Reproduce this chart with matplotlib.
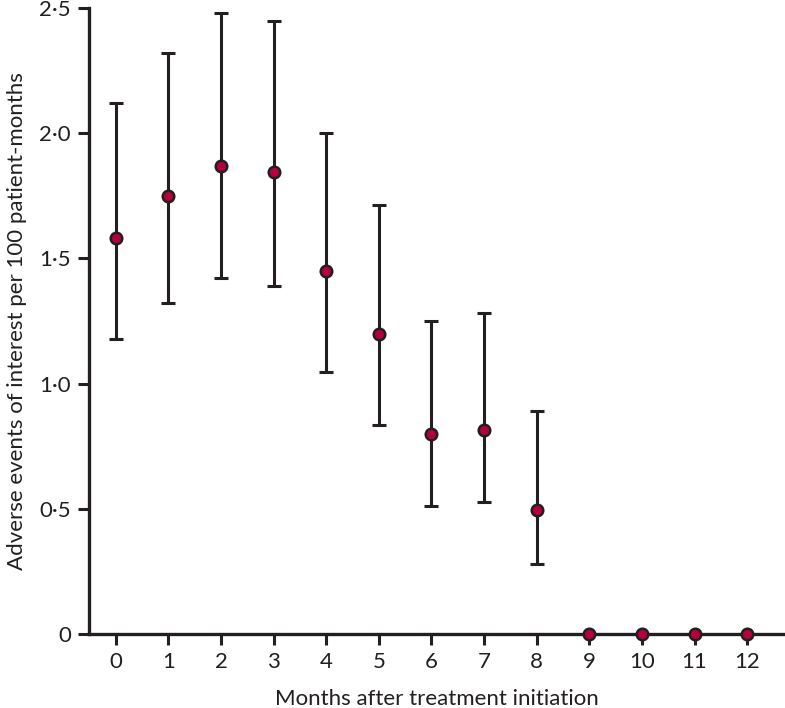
import numpy as np
import matplotlib.pyplot as plt

plt.rcParams['font.family'] = ['Lato', 'DejaVu Sans']

# data
months = list(range(13))
rate = [1.58, 1.75, 1.87, 1.845, 1.45, 1.20, 0.80, 0.815, 0.495, 0, 0, 0, 0]
upper = [2.12, 2.32, 2.48, 2.45, 2.00, 1.715, 1.25, 1.28, 0.89, None, None, None, None]
lower = [1.18, 1.32, 1.42, 1.39, 1.045, 0.835, 0.51, 0.527, 0.28, None, None, None, None]
ytick_vals = [0, 0.5, 1.0, 1.5, 2.0, 2.5]
ytick_labels = ['0', '0·5', '1·0', '1·5', '2·0', '2·5']

ink = '#231f20'
red = '#b5003a'

fig = plt.figure(figsize=(7.85, 7.08), dpi=100)
ax = fig.add_axes([89 / 785, 74 / 708, 696 / 785, 626 / 708])

# error bars only for months with CI
ci_x = [m for m, u in zip(months, upper) if u is not None]
ci_y = [r for r, u in zip(rate, upper) if u is not None]
err_lo = [r - l for r, l in zip(ci_y, [l for l in lower if l is not None])]
err_hi = [u - r for r, u in zip(ci_y, [u for u in upper if u is not None])]
ax.errorbar(ci_x, ci_y, yerr=[err_lo, err_hi], fmt='none', ecolor=ink,
            elinewidth=2.2, capsize=4.8, capthick=2.2, zorder=2)
ax.plot(months, rate, 'o', color=red, markeredgecolor=ink, markeredgewidth=1.8,
        markersize=8.3, clip_on=False, zorder=5)

ax.set_xlim(-0.51, 12.72)
ax.set_ylim(0, 2.5)
ax.set_xticks(months)
ax.set_yticks(ytick_vals)
ax.set_yticklabels(ytick_labels)

for side in ['top', 'right']:
    ax.spines[side].set_visible(False)
for side in ['left', 'bottom']:
    ax.spines[side].set_linewidth(2.4)
    ax.spines[side].set_color(ink)

ax.tick_params(axis='both', direction='out', length=8, width=2.2, color=ink,
               labelsize=16, labelcolor=ink, pad=5)

ax.set_xlabel('Months after treatment initiation', fontsize=16, color=ink, labelpad=12)
ax.set_ylabel('Adverse events of interest per 100 patient-months', fontsize=16,
              color=ink, labelpad=9)

fig.savefig('out.png', dpi=100)
